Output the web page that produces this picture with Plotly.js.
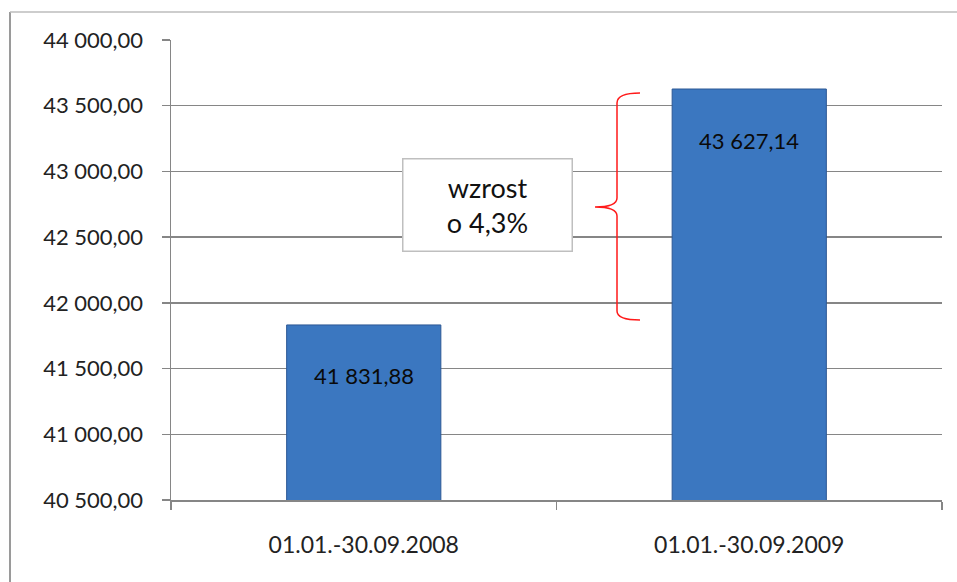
<!DOCTYPE html>
<html><head><meta charset="utf-8">
<script src="https://cdn.plot.ly/plotly-3.0.1.min.js"></script>
<style>html,body{margin:0;padding:0;background:#fff}#chart{width:957px;height:582px}</style>
</head><body><div id="chart"></div>
<script>
const categories = ["01.01.-30.09.2008", "01.01.-30.09.2009"];
const values = [41831.88, 43627.14];
const valueLabels = ["41 831,88", "43 627,14"];
const yTicks = [40500, 41000, 41500, 42000, 42500, 43000, 43500, 44000];
const growthText = "wzrost<br>o 4,3%";

const FONT = "Lato, 'Open Sans', sans-serif";

const trace = {
  type: "bar",
  x: categories,
  y: values,
  marker: {color: "#3B77C0", line: {color: "#2C5894", width: 1}},
  hoverinfo: "none"
};

const annotations = categories.map((c, i) => ({
  x: c, y: values[i], xref: "x", yref: "y",
  text: valueLabels[i], showarrow: false, yshift: -51,
  font: {family: FONT, size: 22, color: "#0A0A0A"}
}));
annotations.push({
  xref: "paper", yref: "paper", x: (487 - 171) / 771, y: (500 - 205) / 460,
  text: growthText, showarrow: false,
  font: {family: FONT, size: 27, color: "#111"},
  width: 166, height: 89, bordercolor: "#BFBFBF", borderwidth: 1.5,
  bgcolor: "#fff", align: "center"
});

function px(xp) { return (xp - 171) / 771; }
function py(yp) { return (500 - yp) / 460; }
const bracePath = `M ${px(640)} ${py(93)} Q ${px(617)} ${py(93)} ${px(617)} ${py(103)} L ${px(617)} ${py(198)} Q ${px(617)} ${py(207)} ${px(595)} ${py(207)} Q ${px(617)} ${py(207)} ${px(617)} ${py(216)} L ${px(617)} ${py(311)} Q ${px(617)} ${py(320)} ${px(640)} ${py(320)}`;

const shapes = [
  {type: "path", xref: "paper", yref: "paper", path: bracePath, line: {color: "#FF1A1A", width: 1.5}},
  {type: "line", xref: "paper", yref: "paper", x0: px(10), x1: px(10), y0: py(590), y1: py(12), line: {color: "#9A9A9A", width: 2}},
  {type: "line", xref: "paper", yref: "paper", x0: px(10), x1: px(970), y0: py(12), y1: py(12), line: {color: "#BDBDBD", width: 1.5}}
];

const layout = {
  width: 957, height: 582,
  margin: {l: 171, r: 15, t: 40, b: 82},
  paper_bgcolor: "#fff", plot_bgcolor: "#fff",
  separators: ", ",
  showlegend: false,
  bargap: 0.6,
  xaxis: {
    type: "category", tickson: "boundaries", ticks: "outside", ticklen: 8, tickcolor: "#868686", tickwidth: 1.5,
    showline: true, linecolor: "#868686", linewidth: 1.5, showgrid: false,
    tickfont: {family: FONT, size: 23, color: "#222"}, ticklabelstandoff: 24
  },
  yaxis: {
    range: [40500, 44000], tickvals: yTicks, tickformat: ",.2f",
    ticks: "outside", ticklen: 8, tickcolor: "#868686", tickwidth: 1.5,
    showline: true, linecolor: "#868686", linewidth: 1.5,
    showgrid: true, gridcolor: "#868686", gridwidth: 1.3, zeroline: false,
    tickfont: {family: FONT, size: 22, color: "#222"}, ticklabelstandoff: 14
  },
  annotations: annotations,
  shapes: shapes
};

Plotly.newPlot("chart", [trace], layout, {staticPlot: true, displayModeBar: false});
</script>
</body></html>
